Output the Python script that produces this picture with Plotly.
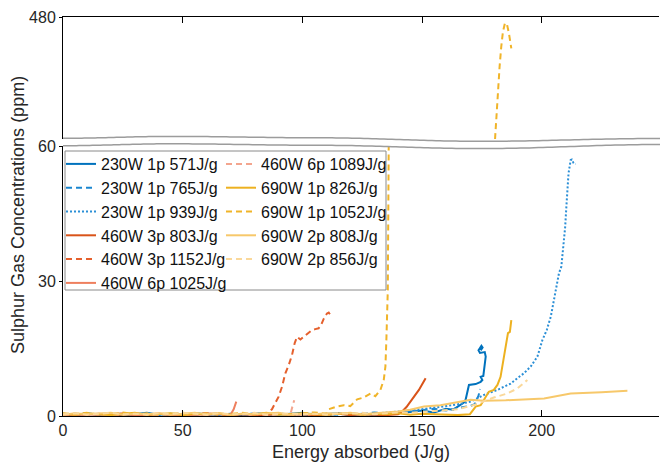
import math
import plotly.graph_objects as go

# ---------------- data ----------------
BASE_X = [0, 5, 10, 15, 20, 25, 30, 35, 40, 45, 50, 55, 60, 65, 70, 75, 80, 85,
          90, 95, 100, 105, 110, 115, 120, 125, 130, 135, 140, 145, 150, 155,
          160, 165, 170]

NAMES = ["230W 1p 571J/g", "230W 1p 765J/g", "230W 1p 939J/g",
         "460W 3p 803J/g", "460W 3p 1152J/g", "460W 6p 1025J/g",
         "460W 6p 1089J/g", "690W 1p 826J/g", "690W 1p 1052J/g",
         "690W 2p 808J/g", "690W 2p 856J/g"]

s571_base = [0.4, 0.2, 0.6, 0.3, 0.5, 0.2, 0.4, 0.7, 0.3, 0.5, 0.2, 0.6, 0.4, 0.3, 0.5, 0.2, 0.6,
             0.4, 0.3, 0.5, 0.7, 0.3, 0.4, 0.6, 0.2, 0.5, 0.3, 0.4, 0.6, 0.9, 1.2, 0.8, 1.6]
s571_tx = [163, 165, 167.5, 168.2, 169.2, 169.6, 172.4, 174.5, 175.2, 174.5, 175.6, 176.2,
           176.6, 176.2, 174.2, 173.6, 174.8, 175.3, 174.5]
s571_ty = [1.4, 2.1, 3.0, 3.6, 6.5, 6.9, 7.1, 7.6, 8.0, 8.7, 8.9, 11.0, 13.2, 14.2, 14.0,
           14.6, 15.6, 15.2, 14.6]

s765_base = [0.3, 0.5, 0.2, 0.4, 0.6, 0.3, 0.2, 0.5, 0.4, 0.3, 0.6, 0.2, 0.4, 0.5, 0.3, 0.2, 0.6,
             0.4, 0.3, 0.5, 0.4, 0.2, 0.5, 0.3, 0.6, 0.4, 0.8, 0.5, 0.7, 1.0, 1.3, 1.6, 1.2, 1.8, 2.2]
s765_tx = [172, 173.6, 174.2]
s765_ty = [2.6, 4.5, 6.0]

s939_base = [0.5, 0.3, 0.6, 0.2, 0.4, 0.5, 0.3, 0.6, 0.2, 0.4, 0.3, 0.5, 0.6, 0.2, 0.4, 0.3, 0.5,
             0.2, 0.6, 0.3, 0.4, 0.5, 0.2, 0.4, 0.6, 0.3, 0.5, 0.7, 1.0, 1.2, 1.5, 1.8, 2.2, 2.6]
s939_tx = [170.3, 173.1, 175.9, 179.4, 181.5, 184.2, 187.0, 189.8, 192.6, 195.4, 198.2, 200.3,
           202.1, 203.8, 205.2, 206.3, 207.2, 208.2, 209.1, 209.8, 210.3, 210.7, 211.2, 212.1,
           212.6, 213.3, 214.2]
s939_ty = [3.2, 3.9, 4.7, 5.4, 5.8, 6.5, 7.2, 8.4, 9.5, 11.0, 13.2, 16.9, 19.1, 22.1, 25.8, 28.7,
           31.7, 33.2, 37.6, 42.0, 46.5, 50.2, 53.9, 56.9, 57.0, 56.2, 56.0]

s803_base = [0.2, 0.4, 0.3, 0.5, 0.2, 0.3, 0.4, 0.2, 0.5, 0.3, 0.2, 0.4, 0.3, 0.5, 0.2, 0.4, 0.3,
             0.2, 0.5, 0.3, 0.4, 0.2, 0.3, 0.5, 0.2, 0.4, 0.3, 0.2, 0.4]
s803_tx = [141.7, 143.5, 145.2, 147.0, 148.7, 150.0, 151.5]
s803_ty = [1.0, 2.0, 3.2, 4.5, 5.8, 7.0, 8.4]

s1152_base = [0.3, 0.5, 0.2, 0.4, 0.3, 0.6, 0.2, 0.4, 0.5, 0.3, 0.2, 0.4, 0.6, 0.3, 0.2, 0.5, 0.3, 0.4]
s1152_tx = [87.3, 90.1, 91.5, 92.9, 94.3, 95.7, 96.8, 97.8, 99.2, 100.5, 102.0, 104.0, 105.4,
            106.8, 107.8, 109.0, 110.3, 111.0, 111.5]
s1152_ty = [1.5, 4.3, 6.5, 9.5, 11.3, 13.6, 16.2, 17.6, 17.0, 17.6, 18.2, 19.1, 19.3, 19.5, 20.2,
            21.7, 22.8, 23.0, 22.6]

s1025_base = [0.4, 0.2, 0.5, 0.3, 0.4, 0.6, 0.2, 0.3, 0.5, 0.4, 0.2, 0.3, 0.6, 0.4, 0.3]
s1025_tx = [71.3, 72.4]
s1025_ty = [1.5, 3.2]

s1089_base = [0.2, 0.5, 0.3, 0.4, 0.2, 0.3, 0.6, 0.4, 0.2, 0.5, 0.3, 0.4, 0.2, 0.6, 0.3, 0.4, 0.5,
              0.2, 0.3, 0.4]
s1089_tx = [96.0, 96.6]
s1089_ty = [2.4, 3.5]

s826_base = [0.5, 0.3, 0.6, 0.4, 0.2, 0.5, 0.7, 0.3, 0.4, 0.6, 0.2, 0.5, 0.4, 0.6, 0.3, 0.5, 0.4,
             0.7, 0.3, 0.5, 0.6, 0.4, 0.3, 0.5, 0.6, 0.3, 0.5, 0.4, 0.6, 0.3, 0.5, 0.4, 0.3, 0.2, 0.4]
s826_tx = [172.4, 174.5, 175.9, 177.9, 180.0, 181.5, 182.8, 183.5, 184.2, 184.9, 185.4, 185.9,
           186.7, 187.0, 187.3]
s826_ty = [2.1, 2.4, 3.6, 5.4, 5.8, 6.9, 8.7, 11.0, 13.2, 15.4, 17.6, 18.4, 18.7, 20.6, 21.3]

s1052_base = [0.6, 0.4, 0.7, 0.3, 0.5, 0.8, 0.4, 0.6, 0.3, 0.5, 0.7, 0.4, 0.6, 0.3, 0.5, 0.7, 0.4,
              0.6, 0.5, 0.3, 0.6, 0.8, 0.5]
s1052_tx = [111.0, 114.5, 117.3, 120.0, 122.9, 125.6, 128.5, 130.5, 132.6, 134.0, 134.7, 135.1,
            135.4, 135.7, 136.1, None, 180.5, 181.0, 181.7, 182.4, 183.1, 183.8, 184.6, 185.4,
            186.3, 187.3]
s1052_ty = [1.5, 2.1, 2.4, 2.2, 3.7, 4.1, 5.0, 4.4, 5.8, 8.0, 11.0, 16.9, 23.6, 28.0, 62.0, None,
            59.5, 137, 229, 309, 378, 429, 458, 458, 424, 372]

s808_base = [0.3, 0.6, 0.4, 0.5, 0.7, 0.3, 0.5, 0.4, 0.6, 0.3, 0.5, 0.7, 0.4, 0.6, 0.3, 0.5, 0.4,
             0.6, 0.7, 0.3, 0.5, 0.4, 0.6, 0.5, 0.7, 0.4, 0.6, 0.8, 1.0, 1.4]
s808_tx = [150.8, 157.7, 164.7, 170.3, 175.9, 185.0, 201.0, 206.6, 212.1, 225.0, 235.8]
s808_ty = [2.1, 2.4, 3.0, 3.6, 3.4, 3.5, 3.9, 4.4, 5.0, 5.3, 5.6]

s856_base = [0.4, 0.6, 0.3, 0.5, 0.7, 0.4, 0.5, 0.3, 0.6, 0.4, 0.7, 0.5, 0.3, 0.6, 0.4, 0.5, 0.7,
             0.3, 0.5, 0.6, 0.4, 0.5, 0.3, 0.6, 0.5, 0.7, 0.4, 0.6, 0.8, 0.7, 0.9, 1.1, 1.2]
s856_tx = [165, 172, 177, 180, 185.6, 189.8, 194]
s856_ty = [1.5, 2.5, 3.5, 4.1, 5.0, 6.1, 8.0]

X_TICKS = [0, 50, 100, 150, 200]
Y_LOW_TICKS = [0, 30, 60]
Y_HIGH_TICKS = [480]

# ---------------- styles ----------------
SERIES = [
    (s571_base, s571_tx, s571_ty, "#0072BD", "solid"),
    (s765_base, s765_tx, s765_ty, "#1A86D0", "6px,4px"),
    (s939_base, s939_tx, s939_ty, "#2B8FD6", "2px,2px"),
    (s803_base, s803_tx, s803_ty, "#D95319", "solid"),
    (s1152_base, s1152_tx, s1152_ty, "#E5602D", "6px,4px"),
    (s1025_base, s1025_tx, s1025_ty, "#EE7F5E", "solid"),
    (s1089_base, s1089_tx, s1089_ty, "#F3A58E", "6px,4px"),
    (s826_base, s826_tx, s826_ty, "#EDB120", "solid"),
    (s1052_base, s1052_tx, s1052_ty, "#F0B429", "6px,4px"),
    (s808_base, s808_tx, s808_ty, "#F7C86A", "solid"),
    (s856_base, s856_tx, s856_ty, "#FAD89A", "6px,4px"),
]

FONT = "Liberation Sans, Arial, Helvetica, sans-serif"
TXT = "#262626"

fig = go.Figure()
for i, (base, tx, ty, col, dash) in enumerate(SERIES):
    xs = BASE_X[:len(base)] + tx
    ys = base + ty
    line = dict(color=col, width=2, dash=dash)
    fig.add_trace(go.Scatter(x=xs, y=ys, mode="lines", line=line, name=NAMES[i],
                             legend="legend" if i < 6 else "legend2",
                             xaxis="x", yaxis="y", connectgaps=False))
for i, (base, tx, ty, col, dash) in enumerate(SERIES):
    xs = BASE_X[:len(base)] + tx
    ys = base + ty
    line = dict(color=col, width=2, dash=dash)
    fig.add_trace(go.Scatter(x=xs, y=ys, mode="lines", line=line, name=NAMES[i],
                             showlegend=False, xaxis="x2", yaxis="y2", connectgaps=False))

# ---------------- geometry helpers ----------------
L, R_, T, B = 63, 659, 17, 416
W, H = R_ - L, B - T


def pxx(x):
    return (x - L) / W


def pxy(y):
    return (B - y) / H


def wave(pts, n=40):
    out = []
    for i in range(len(pts) - 1):
        (x0, y0), (x1, y1) = pts[i], pts[i + 1]
        for k in range(n):
            t = k / n
            s = (1 - math.cos(math.pi * t)) / 2
            out.append((x0 + (x1 - x0) * t, y0 + (y1 - y0) * s))
    out.append(pts[-1])
    return out


upper = wave([(63, 138.3), (170, 136.4), (320, 137.8), (480, 141.3), (660, 138.5)])
lower = wave([(63, 145.7), (170, 143.8), (320, 145.3), (480, 148.6), (660, 144.5)])


def path(pts, close=False):
    s = "M " + " L ".join(f"{pxx(x):.5f},{pxy(y):.5f}" for x, y in pts)
    return s + (" Z" if close else "")


shapes = [
    dict(type="rect", xref="paper", yref="paper", x0=pxx(65), x1=pxx(386), y0=pxy(290), y1=pxy(151),
         fillcolor="white", line=dict(color="#8a8a8a", width=1), layer="above"),
    dict(type="path", xref="paper", yref="paper", path=path(upper + lower[::-1], True),
         fillcolor="white", line=dict(width=0), layer="above"),
    dict(type="path", xref="paper", yref="paper", path=path(upper),
         line=dict(color="#9c9c9c", width=1.5), layer="above"),
    dict(type="path", xref="paper", yref="paper", path=path(lower),
         line=dict(color="#9c9c9c", width=1.5), layer="above"),
]

axis_common = dict(showline=True, linecolor="black", linewidth=1, showgrid=False, zeroline=False,
                   tickcolor="black", tickfont=dict(family=FONT, size=16, color=TXT))

fig.update_layout(
    width=660, height=463,
    margin=dict(l=L, r=660 - R_, t=T, b=463 - B, autoexpand=False),
    paper_bgcolor="white", plot_bgcolor="white",
    font=dict(family=FONT, size=16, color=TXT),
    hovermode=False,
    xaxis=dict(domain=[0, 1], anchor="y", range=[0, 249], tickvals=X_TICKS, ticks="inside",
               ticklen=6, **axis_common),
    xaxis2=dict(domain=[0, 1], anchor="y2", matches="x", side="top", tickvals=X_TICKS,
                ticks="inside", ticklen=6, showticklabels=False, **axis_common),
    yaxis=dict(domain=[0, pxy(146)], anchor="x", range=[0, 60], tickvals=Y_LOW_TICKS,
               ticks="outside", ticklen=3, **axis_common),
    yaxis2=dict(domain=[pxy(139), 1], anchor="x2", range=[60, 480], tickvals=Y_HIGH_TICKS,
                ticks="outside", ticklen=3, **axis_common),
    legend=dict(x=pxx(61), y=pxy(147), xanchor="left", yanchor="top", bgcolor="rgba(0,0,0,0)",
                borderwidth=0, font=dict(family=FONT, size=16, color="#111111"),
                itemwidth=30, tracegroupgap=0),
    legend2=dict(x=pxx(221), y=pxy(147), xanchor="left", yanchor="top", bgcolor="rgba(0,0,0,0)",
                 borderwidth=0, font=dict(family=FONT, size=16, color="#111111"),
                 itemwidth=30, tracegroupgap=0),
    shapes=shapes,
    annotations=[
        dict(text="Energy absorbed (J/g)", xref="paper", yref="paper", x=0.5, y=pxy(452),
             xanchor="center", yanchor="middle", showarrow=False,
             font=dict(family=FONT, size=18, color=TXT)),
        dict(text="Sulphur Gas Concentrations (ppm)", xref="paper", yref="paper", x=pxx(18),
             y=pxy(215), xanchor="center", yanchor="middle", textangle=-90, showarrow=False,
             font=dict(family=FONT, size=18, color=TXT)),
    ],
)

fig.write_html("out.html", config={"displayModeBar": False, "staticPlot": False},
               post_script="document.body.style.margin='0px';document.body.style.overflow='hidden';")
